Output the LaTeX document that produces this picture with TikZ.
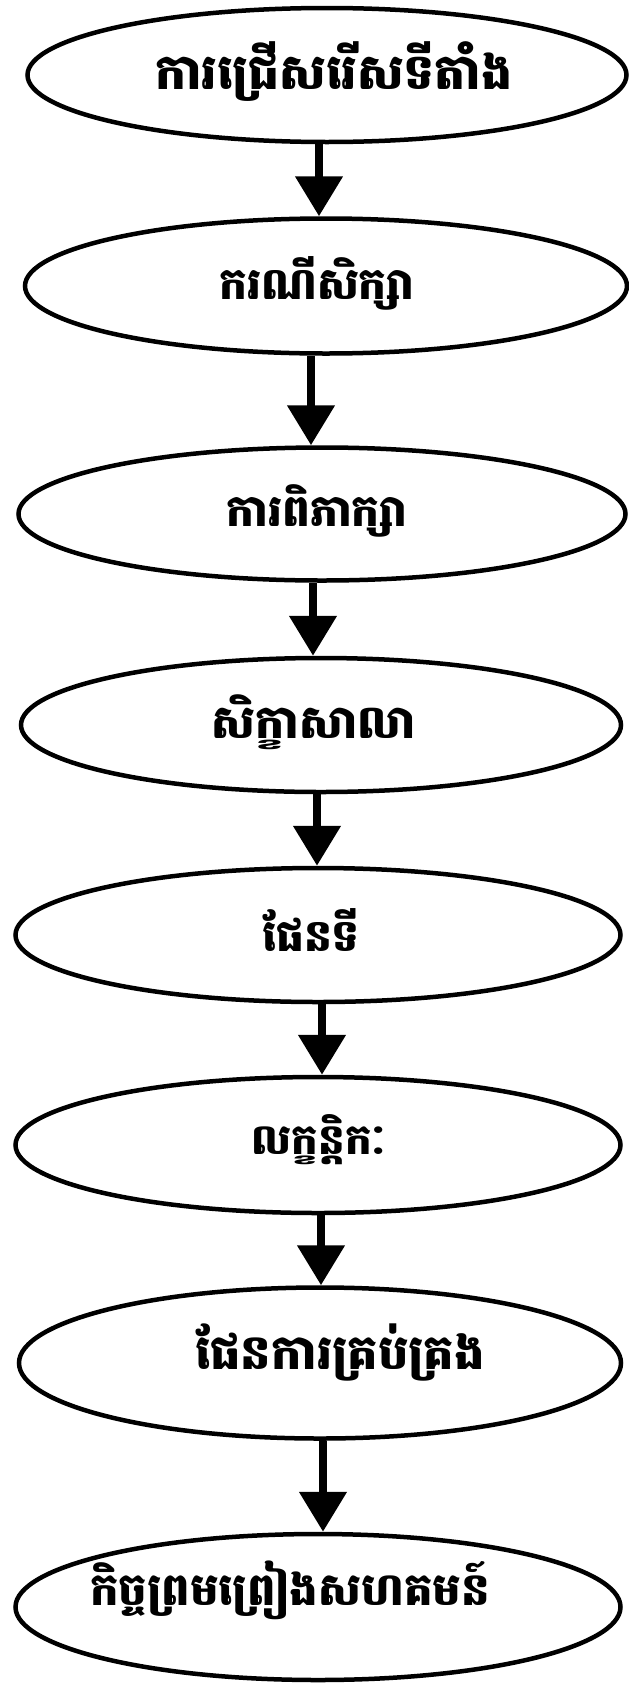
\documentclass[tikz,border=0pt]{standalone}
\usepackage{fontspec}
\newfontfamily\khmer[Script=Khmer]{Battambang}
\usetikzlibrary{shapes.geometric,arrows.meta}
\begin{document}
\begin{tikzpicture}[x=1pt,y=-1pt,
  oval/.style={draw=black, line width=4.5pt, ellipse, inner sep=0pt},
  lbl/.style={inner sep=0pt, font=\khmer\bfseries\fontsize{#1}{#1}\selectfont},
  flow/.style={line width=8pt, -{Triangle[width=46pt,length=40pt]}}]
\useasboundingbox (0,0) rectangle (629,1684);
\node[oval, minimum width=599pt, minimum height=134pt] (e1) at (327,75) {};
\node[oval, minimum width=602pt, minimum height=135pt] (e2) at (326,286) {};
\node[oval, minimum width=607pt, minimum height=133pt] (e3) at (322,514) {};
\node[oval, minimum width=600pt, minimum height=134pt] (e4) at (321,725) {};
\node[oval, minimum width=605pt, minimum height=134pt] (e5) at (318,935) {};
\node[oval, minimum width=605pt, minimum height=136pt] (e6) at (318,1145) {};
\node[oval, minimum width=602pt, minimum height=151pt] (e7) at (320,1363) {};
\node[oval, minimum width=605pt, minimum height=146pt] (e8) at (318,1607) {};
\node[lbl=49] (t1) at (334,72) {ការជ្រើសរើសទីតាំង};
\node[lbl=44] (t2) at (317,283) {ករណីសិក្សា};
\node[lbl=44] (t3) at (317,511) {ការពិភាក្សា};
\node[lbl=46] (t4) at (314,722) {សិក្ខាសាលា};
\node[lbl=44] (t5) at (311,930) {ផែនទី};
\node[lbl=42] (t6) at (319,1140) {លក្ខន្តិកៈ};
\node[lbl=48] (t7) at (340,1352) {ផែនការគ្រប់គ្រង};
\node[lbl=45] (t8) at (290,1590) {កិច្ចព្រមព្រៀងសហគមន៍};
\coordinate (a1) at (319,0);
\coordinate (a2) at (311,0);
\coordinate (a3) at (313,0);
\coordinate (a4) at (317,0);
\coordinate (a5) at (322,0);
\coordinate (a6) at (321,0);
\coordinate (a7) at (323,0);
\draw[flow] (e1.south -| a1) -- (e2.north -| a1);
\draw[flow] (e2.south -| a2) -- (e3.north -| a2);
\draw[flow] (e3.south -| a3) -- (e4.north -| a3);
\draw[flow] (e4.south -| a4) -- (e5.north -| a4);
\draw[flow] (e5.south -| a5) -- (e6.north -| a5);
\draw[flow] (e6.south -| a6) -- (e7.north -| a6);
\draw[flow] (e7.south -| a7) -- (e8.north -| a7);
\end{tikzpicture}
\end{document}
